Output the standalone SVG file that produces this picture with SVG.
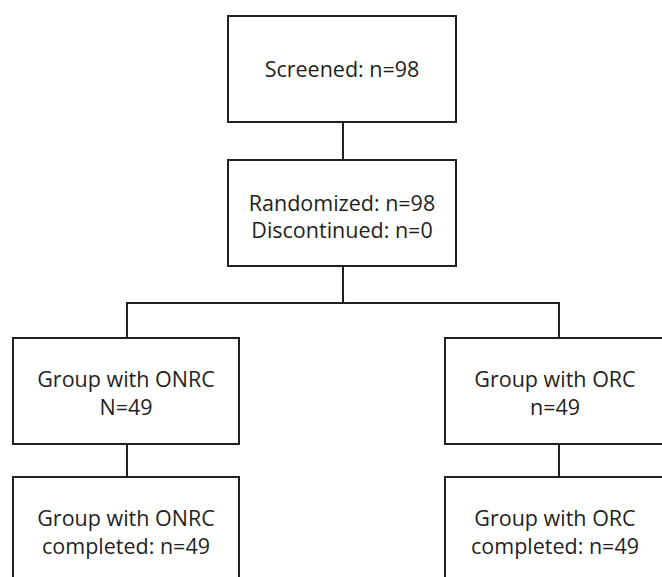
<svg xmlns="http://www.w3.org/2000/svg" width="662" height="577" viewBox="0 0 662 577">
<style>
.box{fill:#fff;stroke:#231f20;stroke-width:2}
.ln{fill:none;stroke:#231f20;stroke-width:2}
text{font-family:"Open Sans","Liberation Sans",sans-serif;font-size:21.5px;fill:#231f20;text-anchor:middle}
</style>
<rect width="662" height="577" fill="#fff"/>
<g id="connectors">
<line class="ln" x1="343" y1="122" x2="343" y2="160"/>
<line class="ln" x1="343" y1="266" x2="343" y2="303"/>
<polyline class="ln" points="127,338 127,303 559,303 559,338"/>
<line class="ln" x1="127" y1="444" x2="127" y2="477"/>
<line class="ln" x1="559" y1="444" x2="559" y2="477"/>
</g>
<g id="screened">
<rect class="box" x="228" y="16" width="228" height="106"/>
<text x="342" y="77">Screened: n=98</text>
</g>
<g id="randomized">
<rect class="box" x="228" y="160" width="228" height="106"/>
<text x="342" y="211">Randomized: n=98</text>
<text x="342" y="238">Discontinued: n=0</text>
</g>
<g id="onrc">
<rect class="box" x="13" y="338" width="226" height="106"/>
<text x="126" y="387">Group with ONRC</text>
<text x="126" y="415">N=49</text>
</g>
<g id="orc">
<rect class="box" x="445" y="338" width="228" height="106"/>
<text x="555" y="387">Group with ORC</text>
<text x="555" y="415">n=49</text>
</g>
<g id="onrc-completed">
<rect class="box" x="13" y="477" width="226" height="110"/>
<text x="126" y="526">Group with ONRC</text>
<text x="126" y="554">completed: n=49</text>
</g>
<g id="orc-completed">
<rect class="box" x="445" y="477" width="228" height="110"/>
<text x="555" y="526">Group with ORC</text>
<text x="555" y="554">completed: n=49</text>
</g>
</svg>
